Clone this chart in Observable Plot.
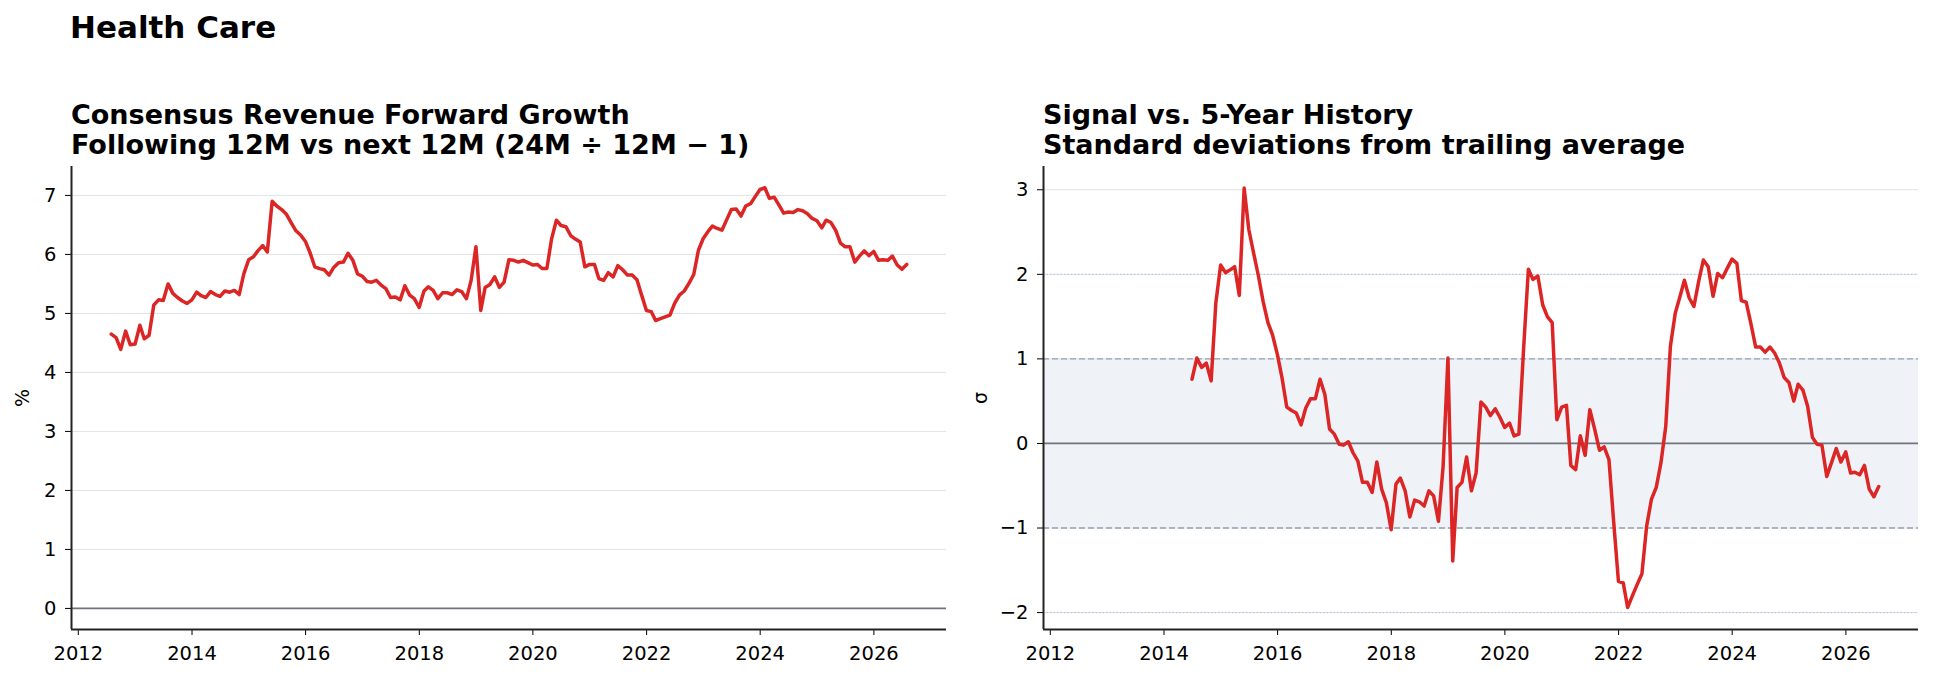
<!DOCTYPE html>
<html>
<head>
<meta charset="utf-8">
<script src="https://cdn.jsdelivr.net/npm/d3@7"></script>
<script src="https://cdn.jsdelivr.net/npm/@observablehq/plot@0.6"></script>
<style>
  body { margin: 0; background: #fff; font-family: "DejaVu Sans", sans-serif; }
  #root { position: relative; width: 1934px; height: 679px; overflow: hidden; background: #fff; }
  .ttl { position: absolute; font-weight: bold; color: #000; white-space: nowrap; }
  .ylab { position: absolute; font-size: 19px; color: #000; transform: translate(-50%, -50%) rotate(-90deg); white-space: nowrap; }
  .panel { position: absolute; }
</style>
</head>
<body>
<div id="root">
  <div class="ttl" style="left:70px; top:12px; font-size:31px; line-height:31px;">Health Care</div>
  <div class="ttl" style="left:71px; top:100px; font-size:27px; line-height:29.6px;">Consensus Revenue Forward Growth<br>Following 12M vs next 12M (24M ÷ 12M − 1)</div>
  <div class="ttl" style="left:1043px; top:100px; font-size:27px; line-height:29.6px;">Signal vs. 5-Year History<br>Standard deviations from trailing average</div>
  <div class="ylab" style="left:22px; top:398px;">%</div>
  <div class="ylab" style="left:980px; top:398px;">σ</div>
  <div class="panel" id="left" style="left:0px; top:156px;"></div>
  <div class="panel" id="right" style="left:960px; top:156px;"></div>
</div>
<script>
// Monthly consensus revenue forward growth (%), month-end from July 2012
const growthStart = [2012, 6];
const growth = [
  4.65, 4.59, 4.39, 4.70, 4.47, 4.48, 4.80, 4.57, 4.63, 5.14,
  5.23, 5.22, 5.50, 5.34, 5.27, 5.21, 5.17, 5.23, 5.36, 5.30,
  5.27, 5.37, 5.32, 5.29, 5.38, 5.36, 5.39, 5.32, 5.67, 5.91,
  5.96, 6.06, 6.15, 6.04, 6.90, 6.82, 6.76, 6.68, 6.54, 6.40,
  6.33, 6.22, 6.02, 5.79, 5.76, 5.74, 5.65, 5.78, 5.86, 5.87,
  6.02, 5.90, 5.67, 5.63, 5.54, 5.53, 5.56, 5.48, 5.42, 5.27,
  5.28, 5.23, 5.47, 5.31, 5.25, 5.10, 5.38, 5.45, 5.39, 5.25,
  5.35, 5.35, 5.32, 5.40, 5.37, 5.25, 5.56, 6.13, 5.05, 5.44,
  5.49, 5.62, 5.44, 5.53, 5.91, 5.90, 5.87,
  5.90, 5.86, 5.82, 5.83, 5.76, 5.76, 6.26, 6.58, 6.49, 6.47,
  6.32, 6.26, 6.21, 5.79, 5.83, 5.83, 5.59, 5.56, 5.69, 5.62,
  5.81, 5.74, 5.65, 5.65, 5.57, 5.31, 5.05, 5.03, 4.88, 4.91,
  4.94, 4.97, 5.17, 5.31, 5.38, 5.51, 5.66, 6.07, 6.27, 6.39,
  6.48, 6.44, 6.41, 6.59, 6.76, 6.77, 6.65, 6.82, 6.86, 6.98,
  7.10, 7.13, 6.95, 6.97, 6.84, 6.70, 6.72, 6.71, 6.76, 6.74,
  6.69, 6.61, 6.57, 6.45, 6.58, 6.54, 6.41, 6.19, 6.13, 6.13,
  5.87, 5.97, 6.06, 5.98, 6.05, 5.90, 5.91, 5.90, 5.97, 5.82,
  5.75, 5.83
];

// Z-score of the growth signal vs. its trailing history, month-end from June 2014
const signalStart = [2014, 5];
const signal = [
  0.76, 1.01, 0.90, 0.95, 0.74, 1.66, 2.11, 2.02, 2.05, 2.09,
  1.75, 3.02, 2.53, 2.25, 1.98, 1.68, 1.43, 1.28, 1.05, 0.76,
  0.43, 0.39, 0.36, 0.22, 0.42, 0.53, 0.53, 0.76, 0.58, 0.17,
  0.11, -0.01, -0.02, 0.02, -0.11, -0.21, -0.46, -0.46, -0.58, -0.22,
  -0.54, -0.70, -1.02, -0.48, -0.41, -0.56, -0.87, -0.67, -0.69,
  -0.74, -0.56, -0.62, -0.92, -0.27, 1.01, -1.39, -0.52, -0.46, -0.16,
  -0.56, -0.35, 0.49, 0.43, 0.33, 0.41, 0.31, 0.19, 0.24, 0.09,
  0.11, 1.11, 2.06, 1.94, 1.98, 1.64, 1.50, 1.43, 0.28, 0.43,
  0.45, -0.26, -0.31, 0.09, -0.14, 0.40, 0.17, -0.08, -0.04, -0.19,
  -0.92, -1.63, -1.65, -1.94, -1.80, -1.67, -1.54, -0.98,
  -0.66, -0.52, -0.23, 0.20, 1.15, 1.54, 1.74, 1.93, 1.72, 1.62,
  1.92, 2.17, 2.09, 1.74, 2.01, 1.96, 2.07, 2.18, 2.13, 1.69,
  1.67, 1.42, 1.14, 1.14, 1.08, 1.14, 1.07, 0.95, 0.78, 0.72,
  0.50, 0.70, 0.63, 0.44, 0.07, -0.01, -0.02, -0.39, -0.23, -0.06,
  -0.22, -0.10, -0.35, -0.34, -0.37, -0.26, -0.54, -0.63, -0.51
];

const xTickYears = [2012, 2014, 2016, 2018, 2020, 2022, 2024, 2026];
const growthTicks = [0, 1, 2, 3, 4, 5, 6, 7];
const signalTicks = [-2, -1, 0, 1, 2, 3];
const bandLevels = [-1, 1];
const outerLevels = [-2, 2];

const RED = "#dc2626";
const GRID = "#dfe2e8";
const SPINE = "#222";

// month-end date for the i-th month after a [year, month] start
const monthEnd = ([y, m], i) => new Date(Date.UTC(y, m + i + 1, 0));
const growthRows = growth.map((v, i) => ({date: monthEnd(growthStart, i), value: v}));
const signalRows = signal.map((v, i) => ({date: monthEnd(signalStart, i), value: v}));

// shared time axis, padded 5% on each side of the growth history
const [t0, t1] = d3.extent(growthRows, d => d.date);
const pad = (t1 - t0) * 0.05;
const xDomain = [new Date(+t0 - pad), new Date(+t1 + pad)];
const xTicks = xTickYears.map(y => new Date(Date.UTC(y, 0, 1)));
const minus = d => (d < 0 ? "\u2212" + Math.abs(d) : String(d));

const frameH = 463;
const common = (marginLeft, width, yDomain) => ({
  width,
  height: 10 + frameH + 50,
  marginTop: 10,
  marginBottom: 50,
  marginLeft,
  marginRight: width - marginLeft - 875,
  x: {type: "utc", domain: xDomain},
  y: {domain: yDomain},
  style: {fontFamily: "DejaVu Sans, sans-serif", fontSize: "19.5px", color: "#000", background: "transparent", overflow: "visible"}
});

const axes = (yTicks) => [
  Plot.axisX({ticks: xTicks, tickFormat: d3.utcFormat("%Y"), tickSize: 6, tickPadding: 11, label: null, fontSize: 19.5}),
  Plot.axisY({ticks: yTicks, tickFormat: minus, tickSize: 6, tickPadding: 9, label: null, fontSize: 19.5}),
  Plot.ruleX([xDomain[0]], {stroke: SPINE, strokeWidth: 2})
];

const growthDomain = [-0.357, 7.49];
const leftChart = Plot.plot({
  ...common(71, 946, growthDomain),
  marks: [
    Plot.gridY(growthTicks, {stroke: GRID, strokeOpacity: 1, strokeWidth: 1}),
    Plot.ruleY([0], {stroke: "#70747c", strokeWidth: 1.8}),
    Plot.lineY(growthRows, {x: "date", y: "value", stroke: RED, strokeWidth: 3.5}),
    ...axes(growthTicks),
    Plot.ruleY([growthDomain[0]], {stroke: SPINE, strokeWidth: 2})
  ]
});
document.getElementById("left").append(leftChart);

const signalDomain = [-2.2, 3.275];
const rightChart = Plot.plot({
  ...common(83, 974, signalDomain),
  marks: [
    Plot.rect([bandLevels], {x1: () => xDomain[0], x2: () => xDomain[1], y1: d => d[0], y2: d => d[1], fill: "#eff3f8"}),
    Plot.gridY(signalTicks, {stroke: GRID, strokeOpacity: 1, strokeWidth: 1}),
    Plot.ruleY(outerLevels, {stroke: "#b4c0d2", strokeWidth: 1, strokeDasharray: "1.5,2"}),
    Plot.ruleY(bandLevels, {stroke: "#94a0b2", strokeWidth: 1.4, strokeDasharray: "6,3"}),
    Plot.ruleY([0], {stroke: "#70747c", strokeWidth: 1.8}),
    Plot.lineY(signalRows, {x: "date", y: "value", stroke: RED, strokeWidth: 3.5}),
    ...axes(signalTicks),
    Plot.ruleY([signalDomain[0]], {stroke: SPINE, strokeWidth: 2})
  ]
});
document.getElementById("right").append(rightChart);
</script>
</body>
</html>
